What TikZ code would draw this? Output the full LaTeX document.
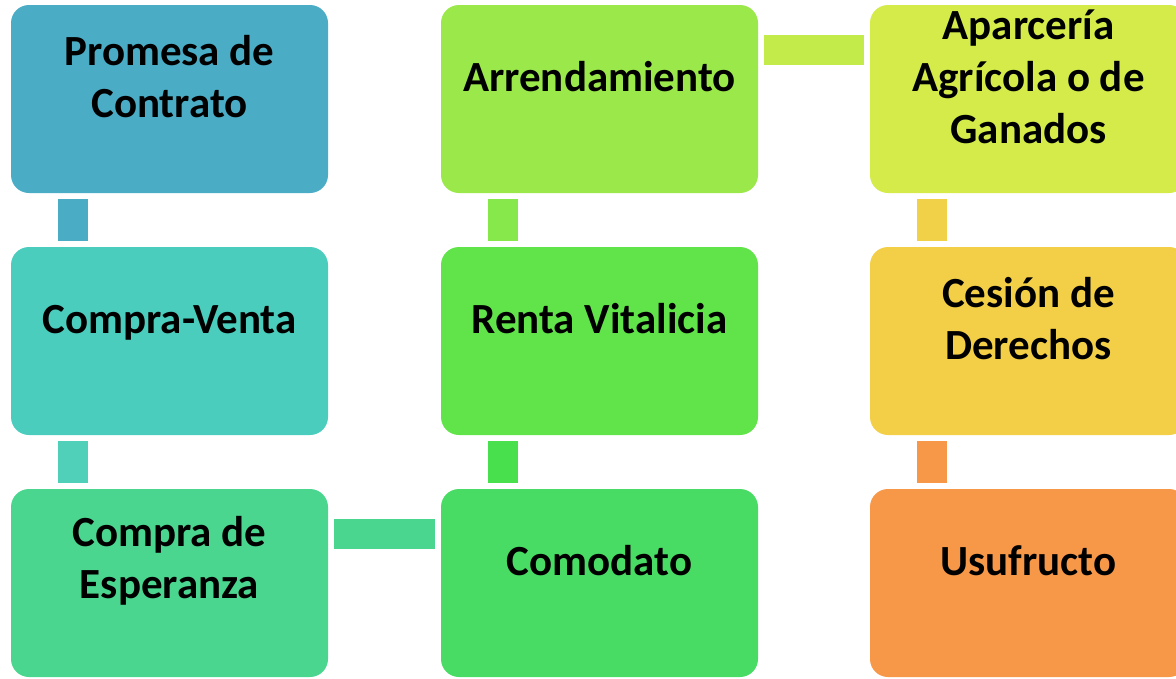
\documentclass[tikz,border=0pt]{standalone}
\usepackage{fontspec}
\setmainfont{Carlito}
\usepackage{xcolor}

\definecolor{cPromesa}{HTML}{4BACC6}
\definecolor{cVenta}{HTML}{4ACDBD}
\definecolor{cEsperanza}{HTML}{4BD68F}
\definecolor{cComodato}{HTML}{48DC64}
\definecolor{cRenta}{HTML}{61E44A}
\definecolor{cArrenda}{HTML}{9BE84A}
\definecolor{cAparceria}{HTML}{D4EB4A}
\definecolor{cCesion}{HTML}{F3CF47}
\definecolor{cUsufructo}{HTML}{F79748}
\definecolor{lVenta}{HTML}{50D0B8}
\definecolor{lEsperanza}{HTML}{4AD68E}
\definecolor{lComodato}{HTML}{48E04C}
\definecolor{lRenta}{HTML}{86E84A}
\definecolor{lArrenda}{HTML}{C3EB4A}
\definecolor{lAparceria}{HTML}{F0D148}

\begin{document}
\begin{tikzpicture}[x=1pt, y=-1pt,
    caja/.style={minimum width=317pt, minimum height=188pt, rounded corners=18pt, inner sep=0pt, outer sep=0pt},
    texto/.style={align=center, font=\fontsize{43}{52}\selectfont\bfseries, inner sep=0pt},
    linea/.style={texto, text height=32pt, text depth=11pt},
    enlace/.style={line width=30pt, line cap=butt, shorten <=6pt, shorten >=6pt}]
    \useasboundingbox (0,0) rectangle (1176,678);
    \clip (0,0) rectangle (1176,678);

    % cajas
    \node[caja, fill=cPromesa] (promesa) at (169.5, 99) {};
    \node[caja, fill=cVenta] (venta) at (169.5, 341) {};
    \node[caja, fill=cEsperanza] (esperanza) at (169.5, 583) {};
    \node[caja, fill=cArrenda] (arrenda) at (599.5, 99) {};
    \node[caja, fill=cRenta] (renta) at (599.5, 341) {};
    \node[caja, fill=cComodato] (comodato) at (599.5, 583) {};
    \node[caja, fill=cAparceria] (aparceria) at (1028.5, 99) {};
    \node[caja, fill=cCesion] (cesion) at (1028.5, 341) {};
    \node[caja, fill=cUsufructo] (usufructo) at (1028.5, 583) {};

    % textos
    \node[texto] (tPromesa) at ([yshift=22pt]promesa.center) {Promesa de\\Contrato};
    \node[linea] (tVenta) at ([yshift=18pt]venta.center) {Compra-Venta};
    \node[texto] (tEsperanza) at ([yshift=22pt]esperanza.center) {Compra de\\Esperanza};
    \node[linea] (tArrenda) at ([yshift=18pt]arrenda.center) {Arrendamiento};
    \node[linea] (tRenta) at ([yshift=18pt]renta.center) {Renta Vitalicia};
    \node[linea] (tComodato) at ([yshift=18pt]comodato.center) {Comodato};
    \node[texto] (tAparceria) at ([yshift=22pt]aparceria.center) {Aparcería\\Agrícola o de\\Ganados};
    \node[texto] (tCesion) at ([yshift=22pt]cesion.center) {Cesión de\\Derechos};
    \node[linea] (tUsufructo) at ([yshift=18pt]usufructo.center) {Usufructo};

    % enlaces
    \draw[enlace, cPromesa] ([xshift=62pt]promesa.south west) -- ([xshift=62pt]venta.north west);
    \draw[enlace, lVenta] ([xshift=62pt]venta.south west) -- ([xshift=62pt]esperanza.north west);
    \draw[enlace, lEsperanza] ([yshift=-45pt]esperanza.north east) -- ([yshift=-45pt]comodato.north west);
    \draw[enlace, lComodato] ([xshift=62pt]comodato.north west) -- ([xshift=62pt]renta.south west);
    \draw[enlace, lRenta] ([xshift=62pt]renta.north west) -- ([xshift=62pt]arrenda.south west);
    \draw[enlace, lArrenda] ([yshift=-45pt]arrenda.north east) -- ([yshift=-45pt]aparceria.north west);
    \draw[enlace, lAparceria] ([xshift=62pt]aparceria.south west) -- ([xshift=62pt]cesion.north west);
    \draw[enlace, cUsufructo] ([xshift=62pt]cesion.south west) -- ([xshift=62pt]usufructo.north west);
\end{tikzpicture}
\end{document}
